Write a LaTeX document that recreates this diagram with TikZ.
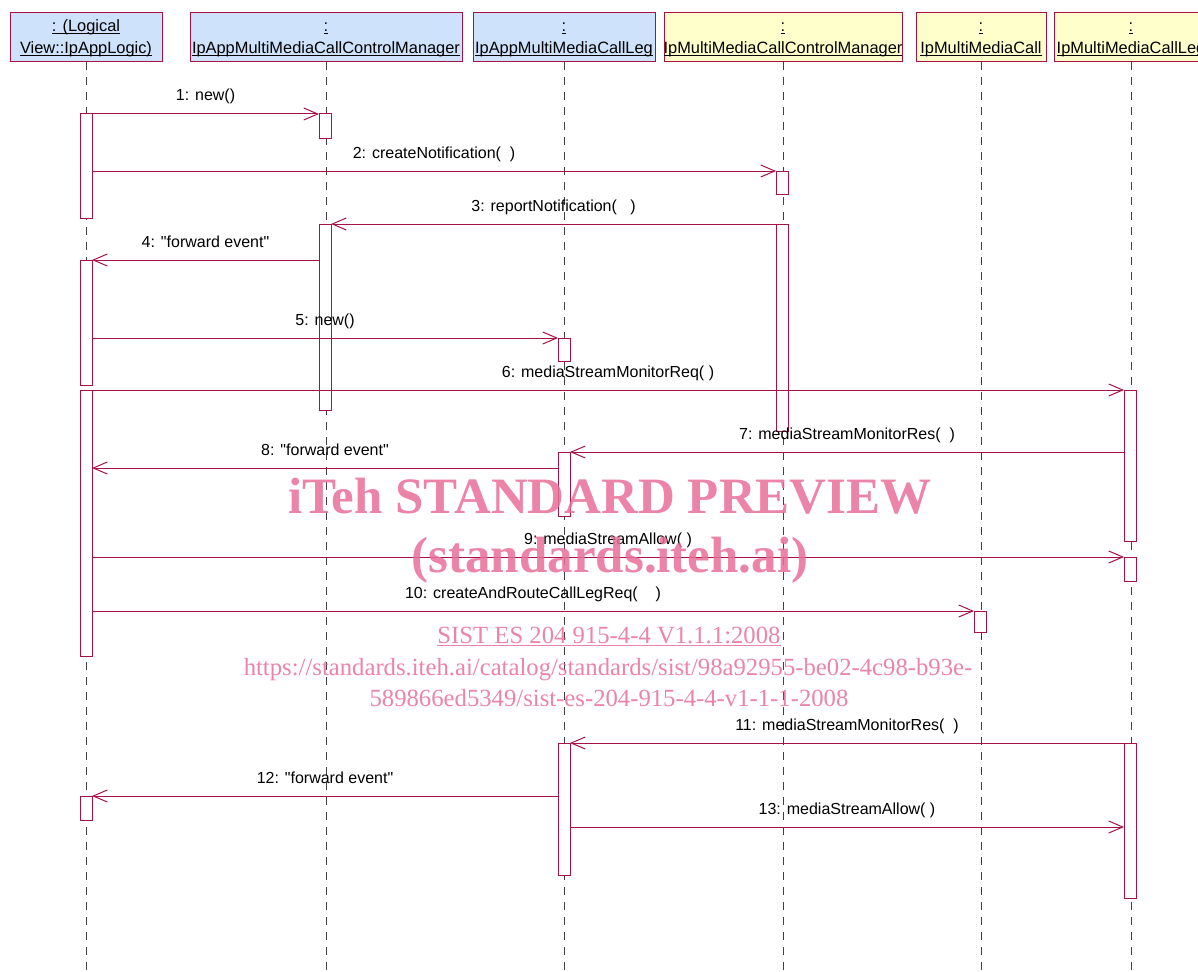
\documentclass[tikz,border=0pt]{standalone}
\usepackage{fontspec}
\setmainfont{Liberation Sans}
\newfontfamily\lf{Liberation Sans}
\newfontfamily\wmfont{Liberation Serif}
\usetikzlibrary{arrows.meta}
\definecolor{lc}{RGB}{165,18,68}
\definecolor{blu}{RGB}{206,226,252}
\definecolor{yel}{RGB}{255,255,204}
\definecolor{wmc}{RGB}{232,110,150}
\newsavebox\ulbox
\newcommand\ulx[1]{\sbox\ulbox{#1}\rlap{\rule[-2.4pt]{\wd\ulbox}{0.9pt}}\usebox\ulbox}
\newcommand\ulw[1]{\sbox\ulbox{#1}\rlap{\rule[-3pt]{\wd\ulbox}{1.2pt}}\usebox\ulbox}
\newcommand\qq{{\lf\symbol{34}}}
\begin{document}
\begin{tikzpicture}[x=1pt,y=-1pt,
  hdr/.style={draw=lc, line width=1pt, rectangle, inner sep=0, outer sep=0, anchor=north west, minimum height=49pt},
  act/.style={draw=lc, fill=white, line width=1pt, rectangle, inner sep=0, outer sep=0, minimum width=12pt, anchor=north},
  lifeline/.style={draw=black!75, line width=1pt, dash pattern=on 8pt off 7pt},
  msg/.style={draw=lc, line width=1pt, -{Straight Barb[length=14pt,width=12pt,line width=1pt]}},
  lbl/.style={anchor=base, yshift=13pt, inner sep=0, text=black, font=\lf\fontsize{16}{19}\selectfont},
  htxt/.style={anchor=base, inner sep=0, text=black, font=\lf\fontsize{16.4}{19}\selectfont},
  wmbig/.style={anchor=base, inner sep=0, text=wmc, text opacity=0.85, font=\wmfont\bfseries\fontsize{51}{60}\selectfont},
  wmsmall/.style={anchor=base, inner sep=0, text=wmc, text opacity=0.85, font=\wmfont\fontsize{24.7}{30}\selectfont}]
\useasboundingbox (0,0) rectangle (1198,971);
\clip (0,0) rectangle (1198,971);
\coordinate (bot) at (0,971);

% header boxes
\node[hdr, fill=blu, minimum width=152pt] (h1) at (10,13) {};
\node[hdr, fill=blu, minimum width=272pt] (h2) at (190,13) {};
\node[hdr, fill=blu, minimum width=182pt] (h3) at (473,13) {};
\node[hdr, fill=yel, minimum width=238pt] (h4) at (664,13) {};
\node[hdr, fill=yel, minimum width=130pt] (h5) at (916,13) {};
\node[hdr, fill=yel, minimum width=154pt] (h6) at (1054,13) {};

\node[htxt] (t1a) at (86,32) {\ulx{: (Logical}};
\node[htxt] (t1b) at (86,54) {\ulx{View::IpAppLogic)}};
\node[htxt] (t2a) at (326,32) {\ulx{:}};
\node[htxt] (t2b) at (326,54) {\ulx{IpAppMultiMediaCallControlManager}};
\node[htxt] (t3a) at (564,32) {\ulx{:}};
\node[htxt] (t3b) at (564,54) {\ulx{IpAppMultiMediaCallLeg}};
\node[htxt] (t4a) at (783,32) {\ulx{:}};
\node[htxt] (t4b) at (783,54) {\ulx{IpMultiMediaCallControlManager}};
\node[htxt] (t5a) at (981,32) {\ulx{:}};
\node[htxt] (t5b) at (981,54) {\ulx{IpMultiMediaCall}};
\node[htxt] (t6a) at (1131,32) {\ulx{:}};
\node[htxt] (t6b) at (1131,54) {\ulx{IpMultiMediaCallLeg}};

% lifelines
\foreach \h in {h1,h2,h3,h4,h5,h6}
  \draw[lifeline] (\h.south) -- (\h.south |- bot);

% activations
\node[act, minimum height=104pt] (A1a) at (86,114) {};
\node[act, minimum height=125pt] (A1b) at (86,260) {};
\node[act, minimum height=266pt] (A1c) at (86,390) {};
\node[act, minimum height=24pt] (A1d) at (86,796) {};
\node[act, minimum height=24pt] (A2a) at (325,114) {};
\node[act, minimum height=186pt] (A2b) at (325,224) {};
\node[act, minimum height=23pt] (A3a) at (564,338) {};
\node[act, minimum height=64pt] (A3b) at (564,452) {};
\node[act, minimum height=132pt] (A3c) at (564,743) {};
\node[act, minimum height=23pt] (A4a) at (782,171) {};
\node[act, minimum height=207pt] (A4b) at (782,224) {};
\node[act, minimum height=21pt] (A5a) at (980,611) {};
\node[act, minimum height=151pt] (A6a) at (1130,390) {};
\node[act, minimum height=24pt] (A6b) at (1130,557) {};
\node[act, minimum height=155pt] (A6c) at (1130,743) {};

\coordinate (m8) at (0,468);
\coordinate (m13) at (0,827);

% messages
\draw[msg] (A1a.east |- A2a.north) -- node[lbl] {1: new()} (A2a.north west);
\draw[msg] (A1a.east |- A4a.north) -- node[lbl] {2: createNotification(\ \ )} (A4a.north west);
\draw[msg] (A4b.north west) -- node[lbl] {3: reportNotification(\ \ \ )} (A2b.north east);
\draw[msg] (A2b.west |- A1b.north) -- node[lbl] {4: \qq forward event\qq} (A1b.north east);
\draw[msg] (A1b.east |- A3a.north) -- node[lbl] {5: new()} (A3a.north west);
\draw[msg] (A1c.north east) -- node[lbl] {6: mediaStreamMonitorReq(\ )} (A6a.north west);
\draw[msg] (A6a.west |- A3b.north) -- node[lbl] {7: mediaStreamMonitorRes(\ \ )} (A3b.north east);
\draw[msg] (A3b.west |- m8) -- node[lbl] {8: \qq forward event\qq} (A1c.east |- m8);
\draw[msg] (A1c.east |- A6b.north) -- node[lbl] {9: mediaStreamAllow(\ )} (A6b.north west);
\draw[msg] (A1c.east |- A5a.north) -- node[lbl] {10: createAndRouteCallLegReq(\ \ \ \ )} (A5a.north west);
\draw[msg] (A6c.north west) -- node[lbl] {11: mediaStreamMonitorRes(\ \ )} (A3c.north east);
\draw[msg] (A3c.west |- A1d.north) -- node[lbl] {12: \qq forward event\qq} (A1d.north east);
\draw[msg] (A3c.east |- m13) -- node[lbl] {13: mediaStreamAllow(\ )} (A6c.west |- m13);

% watermark
\node[wmbig] (w1) at (610,513) {iTeh STANDARD PREVIEW};
\node[wmbig] (w2) at (610,572) {(standards.iteh.ai)};
\node[wmsmall] (w3) at (609,643) {\ulw{SIST ES 204 915-4-4 V1.1.1:2008}};
\node[wmsmall] (w4) at (608,675) {https://standards.iteh.ai/catalog/standards/sist/98a92955-be02-4c98-b93e-};
\node[wmsmall] (w5) at (609,706) {589866ed5349/sist-es-204-915-4-4-v1-1-1-2008};
\end{tikzpicture}
\end{document}
